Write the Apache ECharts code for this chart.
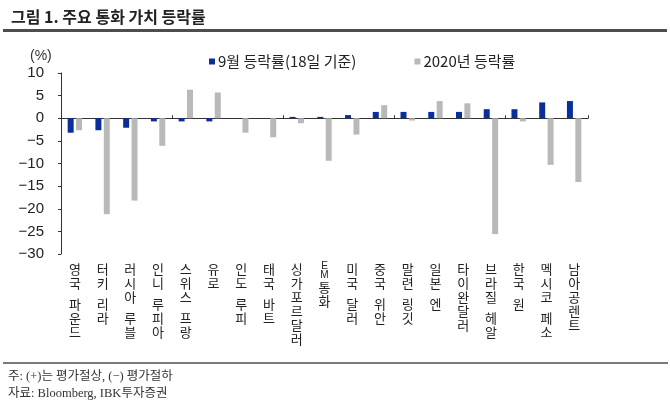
<!DOCTYPE html>
<html><head><meta charset="utf-8">
<script src="https://cdn.jsdelivr.net/npm/echarts@6/dist/echarts.min.js"></script>
<style>
html,body{margin:0;padding:0;background:#fff}
#c{width:670px;height:404px}
</style>
</head><body><div id="c"></div>
<script>
const categories = ['영국 파운드','터키 리라','러시아 루블','인니 루피아','스위스 프랑','유로','인도 루피','태국 바트','싱가포르달러','EM통화','미국 달러','중국 위안','말련 링깃','일본 엔','타이완달러','브라질 헤알','한국 원','멕시코 페소','남아공렌트'];
const sepRate = [-3.2, -2.65, -2.1, -0.7, -0.7, -0.7, 0, 0, 0.3, 0.3, 0.7, 1.4, 1.4, 1.4, 1.4, 2.0, 2.0, 3.5, 3.8];
const ytdRate = [-2.65, -21.2, -18.2, -6.1, 6.3, 5.7, -3.2, -4.2, -1.1, -9.4, -3.6, 2.9, -0.5, 3.8, 3.3, -25.6, -0.7, -10.3, -14.1];
const seriesNames = ['9월 등락률(18일 기준)', '2020년 등락률'];
const yTicks = {min: -30, max: 10, interval: 5};

const KR = '"Noto Sans CJK KR", "Liberation Sans", sans-serif';
const SERIF = '"Liberation Serif", "Noto Sans CJK KR", serif';

function vertical(s) {
  if (s.indexOf('EM') === 0) {
    return '{e|E}\n{e|M}\n' + s.slice(2).split('').map(ch => '{c|' + ch + '}').join('\n');
  }
  return s.split('').map(ch => ch === ' ' ? '{s| }' : '{c|' + ch + '}').join('\n');
}

const chart = echarts.init(document.getElementById('c'), null, {renderer: 'canvas'});
chart.setOption({
  animation: false,
  textStyle: {fontFamily: KR},
  title: {
    text: '그림 1. 주요 통화 가치 등락률',
    left: 6, top: 4,
    textStyle: {fontSize: 16, fontWeight: 'bold', color: '#222', fontFamily: KR}
  },
  graphic: {
    elements: [
      {type: 'group', left: 3, top: 29, children: [
        {type: 'rect', shape: {x: 0, y: 0, width: 664, height: 3}, style: {fill: '#4d4d4d'}}
      ]},
      {type: 'polyline', shape: {points: [[3, 363], [668, 363]]}, style: {stroke: '#7a7a7a', lineWidth: 2, fill: null}},
      {type: 'text', left: 8, top: 370, style: {text: '주: (+)는 평가절상, (−) 평가절하', font: '12.5px ' + SERIF, fill: '#333'}},
      {type: 'text', left: 8, top: 387, style: {text: '자료: Bloomberg, IBK투자증권', font: '12.5px ' + SERIF, fill: '#333'}},
      {type: 'text', left: 30, top: 49, style: {text: '(%)', font: '14px "Liberation Sans", sans-serif', fill: '#333'}}
    ]
  },
  legend: {
    top: 49, left: 204,
    itemWidth: 6, itemHeight: 6, itemGap: 58, icon: 'rect',
    textStyle: {fontSize: 15, color: '#222', fontFamily: KR, padding: [0, 0, 0, -2]},
    data: seriesNames
  },
  grid: {left: 61, right: 82, top: 73, bottom: 150, containLabel: false},
  xAxis: [
    {
      type: 'category', data: categories, position: 'bottom',
      axisLine: {onZero: true, lineStyle: {color: '#333', width: 1}},
      axisTick: {show: true, inside: true, length: 3, lineStyle: {color: '#333'}},
      axisLabel: {show: false}
    },
    {
      type: 'category', data: categories, position: 'bottom',
      axisLine: {show: false, onZero: false}, axisTick: {show: false},
      axisLabel: {
        show: true, interval: 0, margin: 8, verticalAlign: 'top',
        formatter: vertical,
        rich: {
          c: {fontSize: 13, lineHeight: 14, color: '#222', fontFamily: KR},
          s: {fontSize: 13, lineHeight: 7, color: '#222'},
          e: {fontSize: 10, lineHeight: 9, color: '#222', fontFamily: '"Liberation Sans", sans-serif'}
        }
      }
    }
  ],
  yAxis: {
    type: 'value', min: yTicks.min, max: yTicks.max, interval: yTicks.interval,
    axisLine: {show: true, lineStyle: {color: '#333'}},
    axisTick: {show: true, length: 3, lineStyle: {color: '#333'}},
    splitLine: {show: false},
    axisLabel: {
      fontSize: 15, color: '#222', margin: 17, fontFamily: '"Liberation Sans", sans-serif',
      formatter: v => String(v).replace('-', '−')
    }
  },
  series: [
    {name: seriesNames[0], type: 'bar', xAxisIndex: 0, data: sepRate, barWidth: 6, barGap: '40%', itemStyle: {color: '#0A2F9A'}},
    {name: seriesNames[1], type: 'bar', xAxisIndex: 0, data: ytdRate, barWidth: 6, barGap: '40%', itemStyle: {color: '#B9B9B9'}}
  ]
});
</script></body></html>
